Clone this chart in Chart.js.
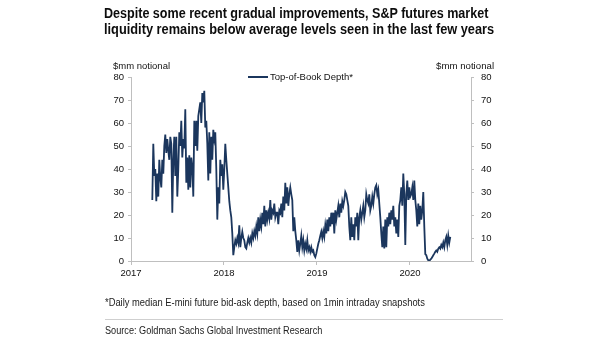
<!DOCTYPE html>
<html>
<head>
<meta charset="utf-8">
<script src="https://cdn.jsdelivr.net/npm/chart.js@4.4.0/dist/chart.umd.min.js"></script>
<style>
body { margin: 0; background: #fff; width: 605px; height: 341px; overflow: hidden; position: relative; font-family: "Liberation Sans", Arial, sans-serif; }
.txt { position: absolute; white-space: nowrap; transform-origin: 0 50%; color: #111; }
.title { left: 104px; font-weight: bold; font-size: 14px; line-height: 16px; color: #0d0d0d; }
.unit { top: 61px; font-size: 8.5px; line-height: 10px; }
#legend { position: absolute; left: 248px; top: 71px; height: 12px; }
#legend i { position: absolute; left: 0; top: 5px; width: 20px; height: 2px; background: #1b365d; }
#legendText { left: 22px; top: 0; font-size: 9.5px; line-height: 12px; }
#note { left: 105px; top: 297px; font-size: 10px; line-height: 12px; color: #222; }
#rule { position: absolute; left: 105px; top: 319px; width: 398px; height: 1px; background: #cfcfcf; }
#source { left: 105px; top: 325px; font-size: 10px; line-height: 12px; color: #222; }
#wrap { position: absolute; left: 0; top: 0; width: 605px; height: 341px; }
</style>
</head>
<body>
<div id="wrap"><canvas id="depth-chart"></canvas></div>
<div id="t1" class="txt title" style="top:5px">Despite some recent gradual improvements, S&amp;P futures market</div>
<div id="t2" class="txt title" style="top:21px">liquidity remains below average levels seen in the last few years</div>
<div id="u1" class="txt unit" style="left:113px">$mm notional</div>
<div id="u2" class="txt unit" style="left:436px">$mm notional</div>
<div id="legend"><i></i><div id="legendText" class="txt">Top-of-Book Depth*</div></div>
<div id="note" class="txt">*Daily median E-mini future bid-ask depth, based on 1min intraday snapshots</div>
<div id="rule"></div>
<div id="source" class="txt">Source: Goldman Sachs Global Investment Research</div>

<script>
// x axis ticks (years)
var yearTicks = [2017, 2018, 2019, 2020];
var xMin = 2017;
var xMax = 2020.656;
// first reading and spacing between readings (years)
var startYear = 2017.229;
var stepYears = 1 / 93;

// Top-of-Book depth, $mm notional
var depth2017 = [26.5, 51, 37, 40, 26, 38, 28, 44, 36, 32, 44, 38, 50, 55, 47, 53, 48, 44, 54, 51,
  21, 44, 54, 37, 54, 28, 40, 56, 50, 61, 45, 53, 49, 66, 34, 45, 31, 46, 32, 45,
  41, 28, 61, 50, 61, 48, 63, 66, 69, 60, 73, 69, 74, 58, 61, 51, 35, 56, 38, 54,
  44, 57, 53, 56, 40, 18, 32, 25, 44, 37, 42, 31, 40, 51, 44, 38, 32, 26, 22, 19];
var depth2018 = [12, 2.5, 6, 9, 7.5, 10, 8, 15.5, 6, 10, 12.7, 10, 9, 6, 5.4, 8, 10,
  8, 10, 8, 12, 10, 13, 11, 15, 12, 19, 13, 18, 15, 21, 16, 24, 15, 22, 18,
  21, 18.5, 26.5, 18, 22, 21, 25, 19, 21, 21, 16, 22, 21, 25, 19, 28, 22, 34, 25, 32,
  24, 29, 32, 29, 26.5, 13, 19, 13, 9, 4, 9, 4.6, 7.5, 11, 6, 9, 4.6, 7.5, 5.4, 9,
  4.6, 6, 4, 6, 4, 4.6, 2.5];
var depth2019 = [1.7, 3.2, 5.4, 7.5, 9, 11, 12.7, 10, 13, 10.5, 15.5, 12, 18, 13, 19, 15, 21, 16,
  21, 12, 22, 18, 21, 24, 19, 25, 21, 26, 24, 26.5, 30, 29, 26.5, 24, 15, 9, 19, 10.5,
  16, 9, 19, 15, 21, 9, 19, 22, 18, 21, 24, 19, 22, 29, 26.5, 25, 29,
  22, 24, 28, 25, 29, 32, 33, 29, 31, 25, 19, 12, 6, 15, 5.4, 18, 6, 19, 15, 21,
  16, 22, 18, 24, 15, 19, 12, 18, 10.5, 24, 26.5, 32, 24, 38, 29, 7];
var depth2020 = [29, 35, 26.5, 32, 28, 29, 32, 26.5, 35, 26.5, 22, 15, 25, 16, 24, 18, 22, 30,
  15, 3, 2.5, 1, 0.3, 0, 0.6, 1, 1.7, 2.5, 3.2, 4, 4.6, 4, 5.4, 6, 5.4, 7, 6, 8,
  6, 9, 10.5, 7, 11, 8, 10.5];

var depth = depth2017.concat(depth2018, depth2019, depth2020);
var points = depth.map(function (v, i) {
  return { x: startYear + i * stepYears, y: v };
});

// squeeze text to the narrow widths of the original
function fitWidth(id, w) {
  var el = document.getElementById(id);
  el.style.transform = "scaleX(" + (w / el.scrollWidth) + ")";
}
fitWidth("t1", 384);
fitWidth("t2", 390);
fitWidth("u1", 57);
fitWidth("u2", 58);
fitWidth("legendText", 83);
fitWidth("note", 320);
fitWidth("source", 217);

var axisColor = "#bfbfbf";
var tickFont = { family: "'Liberation Sans', Arial, sans-serif", size: 9.5 };

function yAxis(pos, w) {
  return {
    position: pos,
    display: true,
    min: 0,
    max: 80,
    ticks: { stepSize: 10, color: "#111", font: tickFont, padding: pos === "left" ? 4 : 7 },
    grid: { drawOnChartArea: false, color: axisColor, tickLength: 3 },
    border: { color: axisColor },
    afterFit: function (s) { s.width = w; }
  };
}

var ctx = document.getElementById("depth-chart").getContext("2d");
var chart = new Chart(ctx, {
  type: "line",
  data: {
    datasets: [{
      label: "Top-of-Book Depth*",
      data: points,
      borderColor: "#1b365d",
      backgroundColor: "#1b365d",
      borderWidth: 1.8,
      pointRadius: 0,
      tension: 0,
      yAxisID: "y"
    }]
  },
  options: {
    responsive: true,
    maintainAspectRatio: false,
    animation: false,
    layout: { padding: { left: 100, right: 104, top: 77, bottom: 60 } },
    plugins: { legend: { display: false }, tooltip: { enabled: false } },
    scales: {
      x: {
        type: "linear",
        min: xMin,
        max: xMax,
        afterBuildTicks: function (s) {
          s.ticks = yearTicks.map(function (v) { return { value: v }; });
        },
        afterFit: function (s) { s.height = 20; },
        ticks: { color: "#111", font: tickFont, padding: 3, maxRotation: 0, autoSkip: false,
          callback: function (v) { return String(v); } },
        grid: { drawOnChartArea: false, color: axisColor, tickLength: 4 },
        border: { color: axisColor }
      },
      y: yAxis("left", 31),
      y2: yAxis("right", 30)
    }
  }
});
</script>
</body>
</html>
